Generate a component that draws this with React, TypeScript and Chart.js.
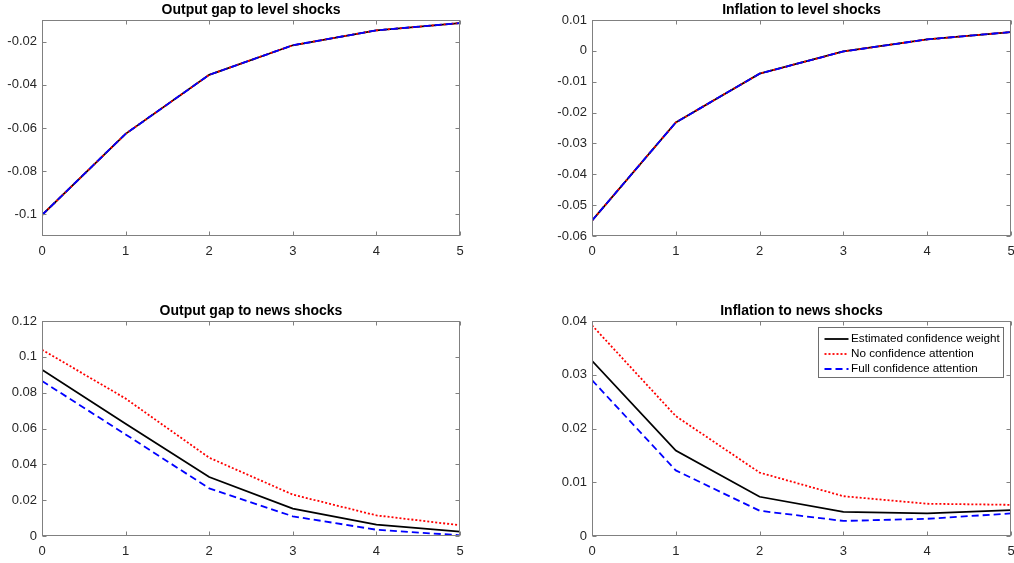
import React, { useEffect, useRef } from 'react';
import { Chart, registerables } from 'chart.js';
Chart.register(...registerables);

// ---------- data ----------
const horizons = [0, 1, 2, 3, 4, 5];
const xTicks = [0, 1, 2, 3, 4, 5];

const seriesLabels = [
  'Estimated confidence weight',
  'No confidence attention',
  'Full confidence attention',
];

// level shocks: all three specifications coincide
const outputGapLevelEstimated = [-0.1003, -0.0627, -0.0354, -0.0217, -0.0148, -0.0114];
const outputGapLevelNoAttention = [-0.1003, -0.0627, -0.0354, -0.0217, -0.0148, -0.0114];
const outputGapLevelFullAttention = [-0.1003, -0.0627, -0.0354, -0.0217, -0.0148, -0.0114];

const inflationLevelEstimated = [-0.055, -0.0232, -0.0074, -0.0002, 0.0037, 0.0061];
const inflationLevelNoAttention = [-0.055, -0.0232, -0.0074, -0.0002, 0.0037, 0.0061];
const inflationLevelFullAttention = [-0.055, -0.0232, -0.0074, -0.0002, 0.0037, 0.0061];

// news shocks
const outputGapNewsEstimated = [0.0928, 0.0627, 0.0329, 0.0153, 0.0063, 0.0024];
const outputGapNewsNoAttention = [0.104, 0.0767, 0.0437, 0.0231, 0.0115, 0.006];
const outputGapNewsFullAttention = [0.0865, 0.0567, 0.0266, 0.011, 0.0035, 0.0004];

const inflationNewsEstimated = [0.0326, 0.0159, 0.0073, 0.0045, 0.0042, 0.0048];
const inflationNewsNoAttention = [0.0392, 0.0223, 0.0118, 0.0074, 0.006, 0.0058];
const inflationNewsFullAttention = [0.029, 0.0122, 0.0047, 0.0028, 0.0032, 0.0042];

// axis ticks
const yTicksOutputLevel = [-0.1, -0.08, -0.06, -0.04, -0.02];
const yTicksInflationLevel = [-0.06, -0.05, -0.04, -0.03, -0.02, -0.01, 0, 0.01];
const yTicksOutputNews = [0, 0.02, 0.04, 0.06, 0.08, 0.1, 0.12];
const yTicksInflationNews = [0, 0.01, 0.02, 0.03, 0.04];

const titles = [
  'Output gap to level shocks',
  'Inflation to level shocks',
  'Output gap to news shocks',
  'Inflation to news shocks',
];

// ---------- styling ----------
const FONT = "'Liberation Sans', Arial, Helvetica, sans-serif";
const AXIS_COLOR = '#808080';
const TEXT_COLOR = '#262626';

const seriesStyles = [
  { color: '#000000', dash: [] as number[], width: 1.8, order: 2 },
  { color: '#ff0000', dash: [2, 2], width: 1.8, order: 1 },
  { color: '#0000ff', dash: [7, 4], width: 1.8, order: 0 },
];

const fmt = (v: number) => {
  const n = Number(v.toFixed(4));
  return n === 0 ? '0' : String(n);
};

const decorPlugin = {
  id: 'panelDecor',
  afterDraw(chart: any, _args: any, opts: any) {
    const ctx = chart.ctx as CanvasRenderingContext2D;
    const { left, right, top, bottom } = chart.chartArea;
    const xs = chart.scales.x;
    const ys = chart.scales.y;
    ctx.save();
    // box
    ctx.strokeStyle = AXIS_COLOR;
    ctx.lineWidth = 1;
    ctx.setLineDash([]);
    const L = Math.round(left) + 0.5, R = Math.round(right) - 0.5;
    const T = Math.round(top) + 0.5, B = Math.round(bottom) - 0.5;
    ctx.strokeRect(L, T, R - L, B - T);
    // inward ticks
    const tl = 4;
    ctx.beginPath();
    ys.ticks.forEach((t: any) => {
      const y = Math.round(ys.getPixelForValue(t.value)) + 0.5;
      ctx.moveTo(L, y); ctx.lineTo(L + tl, y);
      ctx.moveTo(R, y); ctx.lineTo(R - tl, y);
    });
    xs.ticks.forEach((t: any) => {
      const x = Math.round(xs.getPixelForValue(t.value)) + 0.5;
      ctx.moveTo(x, B); ctx.lineTo(x, B - tl);
      ctx.moveTo(x, T); ctx.lineTo(x, T + tl);
    });
    ctx.stroke();
    // title
    ctx.fillStyle = '#000';
    ctx.font = `bold 14px ${FONT}`;
    ctx.textAlign = 'center';
    ctx.textBaseline = 'middle';
    ctx.fillText(opts.title, (left + right) / 2, top - 10);
    // legend
    if (opts.legend) {
      ctx.font = `11.7px ${FONT}`;
      const ds = chart.data.datasets;
      const textW = Math.max(...ds.map((d: any) => ctx.measureText(d.label).width));
      const boxW = Math.ceil(32.5 + textW + 3);
      const rowH = 15;
      const boxH = 50;
      const bx = Math.round(right - 8 - boxW) + 0.5;
      const by = Math.round(top + 6) + 0.5;
      ctx.fillStyle = '#fff';
      ctx.fillRect(bx, by, boxW, boxH);
      ctx.strokeStyle = '#6e6e6e';
      ctx.lineWidth = 1;
      ctx.strokeRect(bx, by, boxW, boxH);
      ds.forEach((d: any, i: number) => {
        const cy = by + 11.5 + i * rowH;
        ctx.beginPath();
        ctx.strokeStyle = d.borderColor;
        ctx.lineWidth = d.borderWidth;
        ctx.setLineDash(d.borderDash || []);
        ctx.moveTo(bx + 6, cy);
        ctx.lineTo(bx + 30, cy);
        ctx.stroke();
        ctx.setLineDash([]);
        ctx.fillStyle = '#000';
        ctx.textAlign = 'left';
        ctx.textBaseline = 'middle';
        ctx.fillText(d.label, bx + 32.5, cy);
      });
    }
    ctx.restore();
  },
};

type PanelCfg = {
  title: string;
  series: number[][];
  yMin: number;
  yMax: number;
  yTicks: number[];
  legend: boolean;
  left: number;
  top: number;
  w: number;
  h: number;
  padTop: number;
};

function Panel({ cfg }: { cfg: PanelCfg }) {
  const ref = useRef<HTMLCanvasElement>(null);
  useEffect(() => {
    const chart = new Chart(ref.current as HTMLCanvasElement, {
      type: 'line',
      data: {
        datasets: cfg.series.map((vals, i) => ({
          label: seriesLabels[i],
          data: horizons.map((x, j) => ({ x, y: vals[j] })),
          borderColor: seriesStyles[i].color,
          borderDash: seriesStyles[i].dash,
          borderWidth: seriesStyles[i].width,
          order: seriesStyles[i].order,
          pointRadius: 0,
          tension: 0,
          fill: false,
        })),
      },
      options: {
        responsive: false,
        animation: false,
        devicePixelRatio: 1,
        layout: { padding: { top: cfg.padTop, right: 20, bottom: 0, left: 0 } },
        plugins: {
          legend: { display: false },
          title: { display: false },
          tooltip: { enabled: false },
          panelDecor: { title: cfg.title, legend: cfg.legend },
        } as any,
        scales: {
          x: {
            type: 'linear',
            min: 0,
            max: 5,
            grid: { display: false, drawTicks: false },
            border: { display: false },
            afterBuildTicks: (s: any) => { s.ticks = xTicks.map((v) => ({ value: v })); },
            afterFit: (s: any) => { s.height = 27; },
            ticks: {
              padding: 8,
              color: TEXT_COLOR,
              font: { family: FONT, size: 13 },
              maxRotation: 0,
              autoSkip: false,
              callback: (v: any) => fmt(Number(v)),
            },
          },
          y: {
            type: 'linear',
            min: cfg.yMin,
            max: cfg.yMax,
            grid: { display: false, drawTicks: false },
            border: { display: false },
            afterBuildTicks: (s: any) => { s.ticks = cfg.yTicks.map((v) => ({ value: v })); },
            afterFit: (s: any) => { s.width = 42; },
            ticks: {
              padding: 5,
              color: TEXT_COLOR,
              font: { family: FONT, size: 13 },
              autoSkip: false,
              callback: (v: any) => fmt(Number(v)),
            },
          },
        },
      },
      plugins: [decorPlugin],
    } as any);
    return () => chart.destroy();
  }, []);
  return (
    <canvas
      ref={ref}
      width={cfg.w}
      height={cfg.h}
      style={{ position: 'absolute', left: cfg.left, top: cfg.top, width: cfg.w, height: cfg.h }}
    />
  );
}

const panels: PanelCfg[] = [
  {
    title: titles[0],
    series: [outputGapLevelEstimated, outputGapLevelNoAttention, outputGapLevelFullAttention],
    yMin: -0.11, yMax: -0.01, yTicks: yTicksOutputLevel, legend: false,
    left: 0, top: 0, w: 480, h: 263, padTop: 20,
  },
  {
    title: titles[1],
    series: [inflationLevelEstimated, inflationLevelNoAttention, inflationLevelFullAttention],
    yMin: -0.06, yMax: 0.01, yTicks: yTicksInflationLevel, legend: false,
    left: 550, top: 0, w: 481, h: 263, padTop: 20,
  },
  {
    title: titles[2],
    series: [outputGapNewsEstimated, outputGapNewsNoAttention, outputGapNewsFullAttention],
    yMin: 0, yMax: 0.12, yTicks: yTicksOutputNews, legend: false,
    left: 0, top: 300, w: 480, h: 263, padTop: 21,
  },
  {
    title: titles[3],
    series: [inflationNewsEstimated, inflationNewsNoAttention, inflationNewsFullAttention],
    yMin: 0, yMax: 0.04, yTicks: yTicksInflationNews, legend: true,
    left: 550, top: 300, w: 481, h: 263, padTop: 21,
  },
];

export default function App() {
  return (
    <div
      style={{
        position: 'fixed', left: 0, top: 0, width: 1014, height: 563,
        overflow: 'hidden', background: '#fff',
      }}
    >
      {panels.map((p, i) => (
        <Panel key={i} cfg={p} />
      ))}
    </div>
  );
}
